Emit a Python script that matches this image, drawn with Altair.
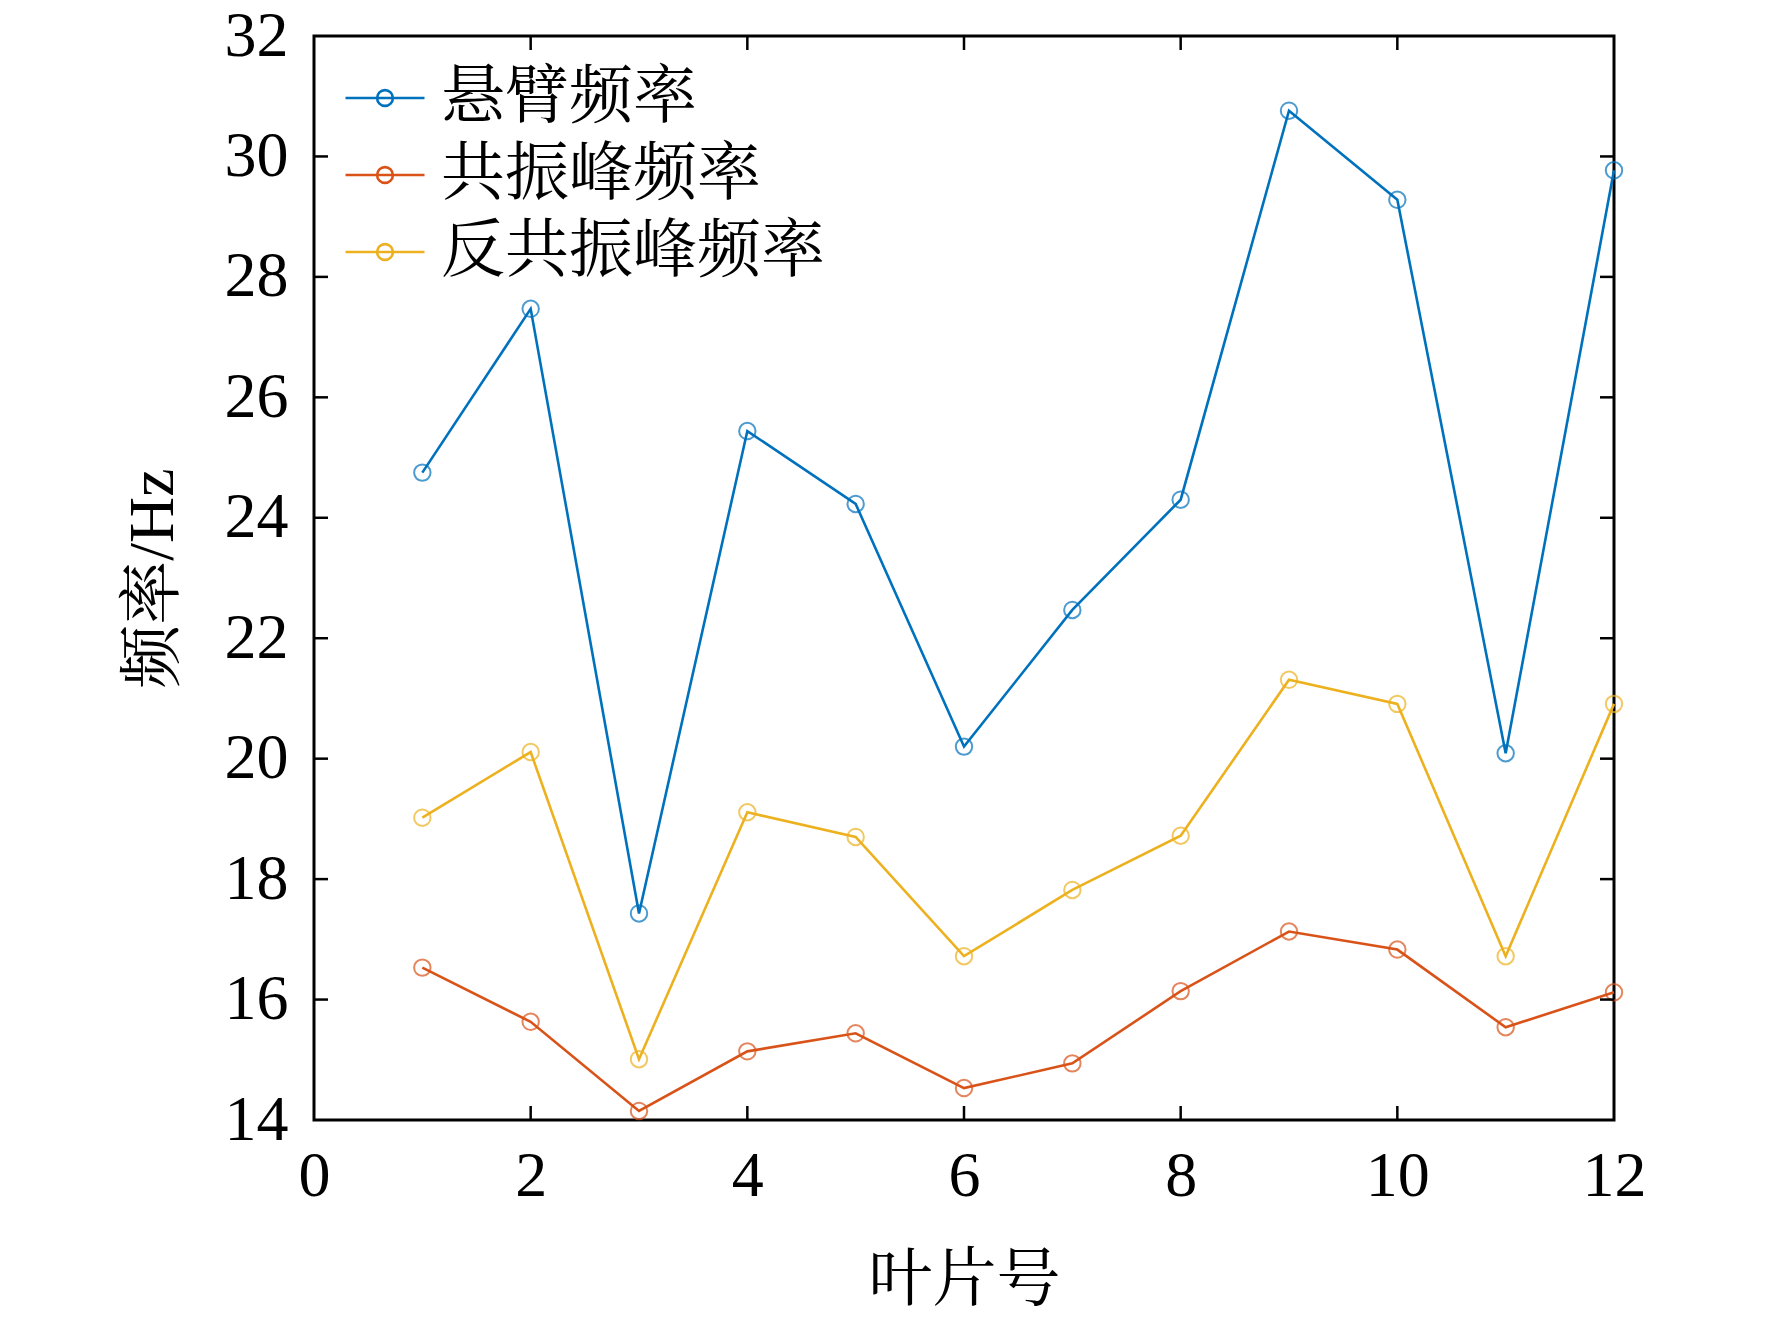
import altair as alt
import pandas as pd

blade = list(range(1, 13))
series_names = ["悬臂频率", "共振峰频率", "反共振峰频率"]
series_colors = ["#0072BD", "#D95319", "#EDB120"]
cantilever = [24.75, 27.47, 17.43, 25.44, 24.23, 20.20, 22.47, 24.30, 30.76, 29.28, 20.09, 29.77]
resonance = [16.53, 15.63, 14.15, 15.14, 15.44, 14.53, 14.94, 16.14, 17.13, 16.83, 15.54, 16.12]
antiresonance = [19.02, 20.11, 15.01, 19.11, 18.70, 16.72, 17.82, 18.72, 21.31, 20.91, 16.72, 20.91]
x_ticks = [0, 2, 4, 6, 8, 10, 12]
y_ticks = [14, 16, 18, 20, 22, 24, 26, 28, 30, 32]

rows = []
for name, vals in zip(series_names, [cantilever, resonance, antiresonance]):
    for b, v in zip(blade, vals):
        rows.append({"blade": b, "freq": v, "series": name})
df = pd.DataFrame(rows)

W, H = 1300, 1084
TL = 14
SERIF = "Liberation Serif"
CJK = "Liberation Serif, Noto Serif CJK SC, Noto Sans CJK SC"

xscale = alt.Scale(domain=[0, 12], nice=False, zero=False)
yscale = alt.Scale(domain=[14, 32], nice=False, zero=False)

xaxis = alt.Axis(values=x_ticks, format="d", title="叶片号", titleFont=CJK, titleFontSize=64,
                 titleFontWeight="normal", titleColor="black",
                 titleX=W / 2, titleY=160, titleBaseline="middle", titleAlign="center",
                 labelFont=SERIF, labelFontSize=64, labelColor="black", labelPadding=24,
                 labelFlush=False, labelOverlap=False, ticks=False, domain=False, grid=False)
yaxis = alt.Axis(values=y_ticks, format="d", title="频率/Hz", titleFont=CJK, titleFontSize=64,
                 titleFontWeight="normal", titleColor="black",
                 titleX=-161, titleY=H / 2, titleAngle=270, titleBaseline="middle", titleAlign="center",
                 labelFont=SERIF, labelFontSize=64, labelColor="black", labelPadding=26,
                 labelOverlap=False, ticks=False, domain=False, grid=False)

color_scale = alt.Scale(domain=series_names, range=series_colors)

sym_path = "M-1,0L1,0M0.2,0A0.2,0.2 0 1,1 -0.2,0A0.2,0.2 0 1,1 0.2,0"

lines = alt.Chart(df).mark_line(strokeWidth=2.6).encode(
    x=alt.X("blade:Q", scale=xscale, axis=xaxis),
    y=alt.Y("freq:Q", scale=yscale, axis=yaxis),
    color=alt.Color("series:N", scale=color_scale, sort=series_names,
                    legend=alt.Legend(title=None, orient="none", legendX=30, legendY=21,
                                      direction="vertical", symbolType=sym_path,
                                      symbolSize=6241, symbolStrokeWidth=2.6,
                                      symbolFillColor="transparent",
                                      labelFont=CJK, labelFontSize=64, labelColor="black",
                                      labelOffset=15, rowPadding=4, labelLimit=800)),
    order="blade:Q",
)

points = alt.Chart(df).mark_point(shape="circle", filled=False, size=270, strokeWidth=2).encode(
    x=alt.X("blade:Q", scale=xscale),
    y=alt.Y("freq:Q", scale=yscale),
    stroke=alt.Stroke("series:N", scale=color_scale, legend=None),
)

xt = pd.DataFrame({"t": x_ticks[1:-1]})
yt = pd.DataFrame({"t": y_ticks[1:-1]})
tick_style = dict(color="black", strokeWidth=2.5)
bottom_ticks = alt.Chart(xt).mark_rule(**tick_style).encode(
    x=alt.X("t:Q", scale=xscale), y=alt.value(H), y2=alt.value(H - TL))
top_ticks = alt.Chart(xt).mark_rule(**tick_style).encode(
    x=alt.X("t:Q", scale=xscale), y=alt.value(0), y2=alt.value(TL))
left_ticks = alt.Chart(yt).mark_rule(**tick_style).encode(
    y=alt.Y("t:Q", scale=yscale), x=alt.value(0), x2=alt.value(TL))
right_ticks = alt.Chart(yt).mark_rule(**tick_style).encode(
    y=alt.Y("t:Q", scale=yscale), x=alt.value(W), x2=alt.value(W - TL))

chart = alt.layer(lines, points, bottom_ticks, top_ticks, left_ticks, right_ticks).properties(
    width=W, height=H,
    autosize=alt.AutoSizeParams(type="none"),
    padding={"left": 306, "top": 28, "right": 150, "bottom": 195},
    background="white",
).configure_view(stroke="black", strokeWidth=3)

chart.save("out.html", embed_options={"renderer": "svg", "actions": False})
